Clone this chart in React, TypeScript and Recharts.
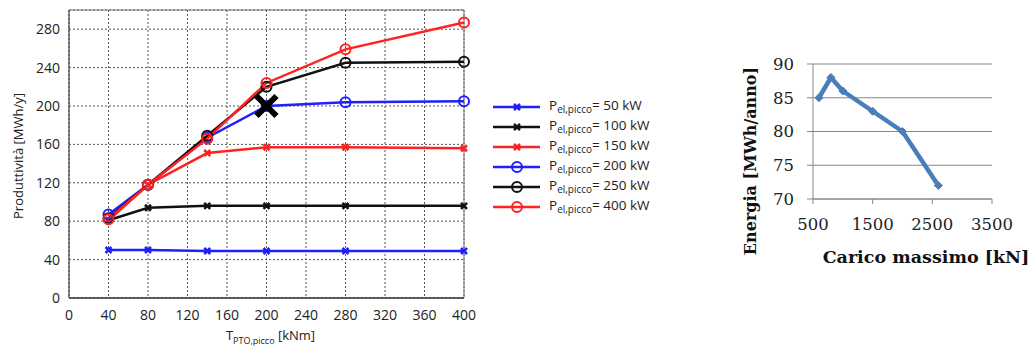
import React from 'react';
import { ComposedChart, Line, XAxis, YAxis, CartesianGrid, ReferenceLine, ReferenceDot, Label } from 'recharts';

// ---------- Left chart data ----------
const torque = [40, 80, 140, 200, 280, 400];
const p50 = [50, 50, 49, 49, 49, 49];
const p100 = [81, 94, 96, 96, 96, 96];
const p150 = [81, 118, 151, 157, 157, 156];
const p200 = [87, 118, 167, 200, 204, 205];
const p250 = [83, 118, 169, 220, 245, 246];
const p400 = [82, 118, 166, 224, 259, 287];
const seriesLabels = ['50 kW', '100 kW', '150 kW', '200 kW', '250 kW', '400 kW'];
const torqueTicks = [0, 40, 80, 120, 160, 200, 240, 280, 320, 360, 400];
const prodTicks = [0, 40, 80, 120, 160, 200, 240, 280];
const optimumTorque = 200;
const optimumProd = 200;

// ---------- Right chart data ----------
const loadKN = [600, 800, 1000, 1500, 2000, 2600];
const energy = [85, 88, 86, 83, 80, 72];
const loadTicks = [500, 1500, 2500, 3500];
const energyTicks = [70, 75, 80, 85, 90];

const seriesValues = [p50, p100, p150, p200, p250, p400];
const seriesKeys = ['p50', 'p100', 'p150', 'p200', 'p250', 'p400'];
const seriesColors = ['#1f1fff', '#111111', '#ff2222', '#1f1fff', '#111111', '#ff2222'];
const seriesMarkers = ['x', 'x', 'x', 'o', 'o', 'o'];

const leftData = torque.map((t, i) => {
  const row: any = { t };
  seriesKeys.forEach((k, s) => { row[k] = seriesValues[s][i]; });
  return row;
});

const rightData = loadKN.map((l, i) => ({ load: l, energy: energy[i] }));

const FONT = '"Open Sans", "Liberation Sans", sans-serif';
const SERIF = '"DejaVu Serif", "Liberation Serif", serif';

const makeXDot = (color: string) => (props: any) => {
  const { cx, cy, index } = props;
  if (cx == null || cy == null) return <g key={index} />;
  const s = 3;
  return (
    <path
      key={index}
      d={`M${cx - s},${cy - s}L${cx + s},${cy + s}M${cx - s},${cy + s}L${cx + s},${cy - s}`}
      stroke={color}
      strokeWidth={2.6}
      fill="none"
    />
  );
};

const diamondDot = (props: any) => {
  const { cx, cy, index } = props;
  if (cx == null || cy == null) return <g key={index} />;
  const s = 4;
  return (
    <path key={index} d={`M${cx},${cy - s}L${cx + s},${cy}L${cx},${cy + s}L${cx - s},${cy}Z`} fill="#4a7ebb" stroke="#4a7ebb" />
  );
};

const BigX = (props: any) => {
  const { cx, cy } = props;
  const s = 10;
  return (
    <path
      d={`M${cx - s},${cy - s}L${cx + s},${cy + s}M${cx - s},${cy + s}L${cx + s},${cy - s}`}
      stroke="#000"
      strokeWidth={6}
      fill="none"
    />
  );
};

const LegendBox = () => (
  <div style={{ position: 'absolute', left: 493, top: 97, fontFamily: FONT, fontSize: 13.5, color: '#222' }}>
    {seriesLabels.map((lab, i) => (
      <div key={lab} style={{ display: 'flex', alignItems: 'center', height: 20 }}>
        <svg width={48} height={20} style={{ display: 'block' }}>
          <line x1={0} y1={10} x2={47} y2={10} stroke={seriesColors[i]} strokeWidth={2.5} />
          {seriesMarkers[i] === 'o' ? (
            <circle cx={24} cy={10} r={5} stroke={seriesColors[i]} strokeWidth={2} fill="none" />
          ) : (
            <path d="M21,7L27,13M21,13L27,7" stroke={seriesColors[i]} strokeWidth={2.6} />
          )}
        </svg>
        <span style={{ marginLeft: 8, whiteSpace: 'nowrap', lineHeight: '20px' }}>
          P<sub style={{ fontSize: 10, verticalAlign: -3 }}>el,picco</sub>= {lab}
        </span>
      </div>
    ))}
  </div>
);

export default function App() {
  return (
    <div style={{ position: 'absolute', left: 0, top: 0, width: 1034, height: 347, background: '#fff', overflow: 'hidden' }}>
      <div style={{ position: 'absolute', left: 0, top: 0 }}>
        <ComposedChart width={480} height={347} data={leftData} margin={{ top: 10, right: 16, bottom: 19, left: 0 }}>
          <CartesianGrid stroke="#555" strokeDasharray="2 2" vertical horizontal />
          <XAxis
            dataKey="t"
            type="number"
            domain={[0, 400]}
            ticks={torqueTicks}
            interval={0}
            height={30}
            tickLine={false}
            tickSize={6}
            tickMargin={6}
            axisLine={{ stroke: '#333', strokeWidth: 1.5 }}
            tick={{ fontFamily: FONT, fontSize: 14, fill: '#222' }}
          >
            <Label
              content={(p: any) => {
                const vb = p.viewBox || { x: 69, width: 395 };
                const cx = vb.x + vb.width / 2 + 4;
                return (
                  <text x={cx} y={340} textAnchor="middle" fontFamily={FONT} fontSize={13} fill="#222">
                    T<tspan fontSize={9} dy={4}>PTO,picco</tspan>
                    <tspan dy={-4}> [kNm]</tspan>
                  </text>
                );
              }}
            />
          </XAxis>
          <YAxis
            type="number"
            domain={[0, 300]}
            ticks={prodTicks}
            interval={0}
            width={69}
            tickLine={false}
            tickSize={6}
            tickMargin={3}
            axisLine={{ stroke: '#444', strokeWidth: 1.2 }}
            tick={{ fontFamily: FONT, fontSize: 14, fill: '#222' }}
          >
            <Label
              content={() => (
                <text
                  x={23}
                  y={156}
                  transform="rotate(-90 23 156)"
                  textAnchor="middle"
                  fontFamily={FONT}
                  fontSize={13}
                  fill="#222"
                >
                  Produttività [MWh/y]
                </text>
              )}
            />
          </YAxis>
          <ReferenceLine y={300} stroke="#777" strokeWidth={1} />
          <ReferenceLine x={400} stroke="#777" strokeWidth={1} />
          {seriesKeys.map((k, i) => (
            <Line
              key={k}
              dataKey={k}
              name={seriesLabels[i]}
              stroke={seriesColors[i]}
              strokeWidth={2.5}
              isAnimationActive={false}
              dot={
                seriesMarkers[i] === 'o'
                  ? { r: 5, stroke: seriesColors[i], strokeWidth: 2, fill: 'none' }
                  : makeXDot(seriesColors[i])
              }
              activeDot={false}
            />
          ))}
          <ReferenceDot x={optimumTorque} y={optimumProd} r={10} shape={(p: any) => <BigX {...p} />} />
        </ComposedChart>
      </div>
      <LegendBox />
      <div style={{ position: 'absolute', left: 740, top: 40 }}>
        <ComposedChart width={294} height={250} data={rightData} margin={{ top: 24, right: 42, bottom: 51, left: 0 }}>
          <CartesianGrid stroke="#878787" vertical={false} />
          <XAxis
            dataKey="load"
            type="number"
            domain={[500, 3500]}
            ticks={loadTicks}
            interval={0}
            height={40}
            tickSize={5}
            tickMargin={14}
            tickLine={{ stroke: '#878787' }}
            axisLine={{ stroke: '#878787' }}
            tick={{ fontFamily: SERIF, fontSize: 16.5, fill: '#222' }}
          >
            <Label
              content={() => (
                <text x={186} y={223} textAnchor="middle" fontFamily={SERIF} fontWeight="bold" fontSize={17.5} fill="#111">
                  Carico massimo [kN]
                </text>
              )}
            />
          </XAxis>
          <YAxis
            type="number"
            domain={[70, 90]}
            ticks={energyTicks}
            interval={0}
            width={73}
            tickSize={6}
            tickMargin={13}
            tickLine={{ stroke: '#878787' }}
            axisLine={{ stroke: '#878787' }}
            tick={{ fontFamily: SERIF, fontSize: 16.5, fill: '#222' }}
          >
            <Label
              content={() => (
                <text
                  x={16}
                  y={121}
                  transform="rotate(-90 16 121)"
                  textAnchor="middle"
                  fontFamily={SERIF}
                  fontWeight="bold"
                  fontSize={16}
                  fill="#111"
                >
                  Energia [MWh/anno]
                </text>
              )}
            />
          </YAxis>
          <Line
            dataKey="energy"
            stroke="#4a7ebb"
            strokeWidth={4.5}
            strokeLinejoin="round"
            isAnimationActive={false}
            dot={diamondDot}
            activeDot={false}
          />
        </ComposedChart>
      </div>
    </div>
  );
}
